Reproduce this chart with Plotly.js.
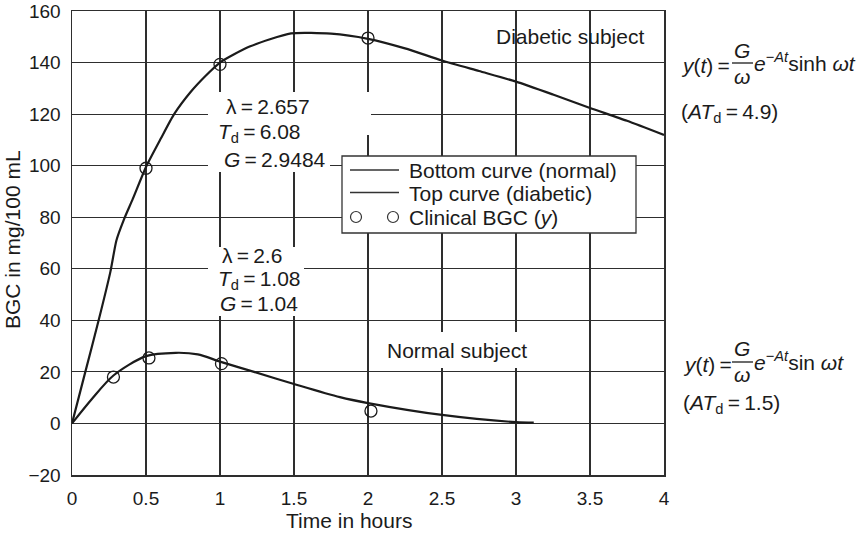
<!DOCTYPE html>
<html>
<head>
<meta charset="utf-8">
<script src="https://cdn.plot.ly/plotly-3.0.1.min.js"></script>
<style>
  html, body { margin: 0; padding: 0; background: #fff; }
  #chart { width: 862px; height: 534px; }
</style>
</head>
<body>
<div id="chart"></div>
<script>
// Blood glucose concentration (BGC) curves, mg/100 mL vs. time in hours
const normalT   = [0, 0.13, 0.28, 0.5, 0.7, 0.85, 1.0, 1.23, 1.5, 1.81, 2.0, 2.5, 3.0, 3.12];
const normalBGC = [0, 9.2, 18.6, 26.1, 27.4, 26.8, 24.0, 20.0, 15.3, 10.2, 7.9, 3.3, 0.5, 0.3];

const diabeticT   = [0, 0.09, 0.18, 0.26, 0.30, 0.35, 0.41, 0.5, 0.6, 0.69, 0.8, 0.9, 1.0, 1.2, 1.48, 1.75, 2.0, 2.25, 2.5, 2.75, 3.0, 3.25, 3.5, 3.75, 4.0];
const diabeticBGC = [0, 20, 40, 59, 71, 79, 87, 99.5, 110.5, 120, 128.5, 134.7, 140, 146.2, 151.3, 151.2, 149.2, 145.5, 140.8, 136.7, 132.6, 127.6, 122.4, 117.4, 111.9];

// clinical measurements (open circles)
const clinicalT   = [0.28, 0.52, 1.01, 2.02, 0.5, 1.0, 2.0];
const clinicalBGC = [18.0, 25.4, 23.2, 4.8, 99.0, 139.3, 149.5];

const xTickVals = [0, 0.5, 1, 1.5, 2, 2.5, 3, 3.5, 4];
const xTickText = ['0', '0.5', '1', '1.5', '2', '2.5', '3', '3.5', '4'];
const yTickVals = [-20, 0, 20, 40, 60, 80, 100, 120, 140, 160];
const yTickText = ['\u221220', '0', '20', '40', '60', '80', '100', '120', '140', '160'];

const legendLabels = ['Bottom curve (normal)', 'Top curve (diabetic)', 'Clinical BGC (<i>y</i>)'];

// plot-area geometry in pixels, used to place decorations in paper units
const PL = 72, PT = 11, PW = 592, PH = 464;
const px = v => (v - PL) / PW;
const py = v => (PT + PH - v) / PH;

const INK = '#1b1b1b';
const FONT = 'Liberation Sans, Arial, Helvetica, sans-serif';
const SP = '\u2009';

const traces = [
  { x: normalT, y: normalBGC, mode: 'lines', line: { color: INK, width: 2.2, shape: 'spline', smoothing: 0.8 },
    name: legendLabels[0], showlegend: false, hoverinfo: 'x+y' },
  { x: diabeticT, y: diabeticBGC, mode: 'lines', line: { color: INK, width: 2.2, shape: 'spline', smoothing: 0.6 },
    name: legendLabels[1], showlegend: false, hoverinfo: 'x+y' },
  { x: clinicalT, y: clinicalBGC, mode: 'markers',
    marker: { symbol: 'circle-open', size: 12, color: INK, line: { width: 1.3, color: INK } },
    name: legendLabels[2], showlegend: false, hoverinfo: 'x+y' }
];

// white patches that clear the grid behind the parameter labels
function patch(x0, x1, y0, y1) {
  return { type: 'rect', xref: 'paper', yref: 'paper', x0: px(x0), x1: px(x1), y0: py(y1), y1: py(y0),
           fillcolor: '#fff', line: { width: 0 }, layer: 'above' };
}
const shapes = [
  patch(208, 371, 92, 135),
  patch(208, 330, 134, 172),
  patch(208, 304, 247, 316),
  patch(378, 532, 332, 368),
  // legend frame
  { type: 'rect', xref: 'paper', yref: 'paper', x0: px(342), x1: px(636), y0: py(233), y1: py(156),
    fillcolor: '#fff', line: { color: '#333', width: 1.3 }, layer: 'above' },
  // legend line samples
  { type: 'line', xref: 'paper', yref: 'paper', x0: px(350), x1: px(399), y0: py(170), y1: py(170),
    line: { color: '#333', width: 1.3 }, layer: 'above' },
  { type: 'line', xref: 'paper', yref: 'paper', x0: px(350), x1: px(399), y0: py(192.5), y1: py(192.5),
    line: { color: '#333', width: 1.3 }, layer: 'above' },
  // fraction bars of the two model formulas
  { type: 'line', xref: 'paper', yref: 'paper', x0: px(732), x1: px(753), y0: py(63), y1: py(63),
    line: { color: INK, width: 1.3 } },
  { type: 'line', xref: 'paper', yref: 'paper', x0: px(732), x1: px(753), y0: py(362), y1: py(362),
    line: { color: INK, width: 1.3 } }
];
// legend marker symbols
[356, 393].forEach(cx => shapes.push({
  type: 'circle', xref: 'paper', yref: 'paper', xsizemode: 'pixel', ysizemode: 'pixel',
  xanchor: px(cx), yanchor: py(217), x0: -5.5, x1: 5.5, y0: -5.5, y1: 5.5,
  line: { color: '#333', width: 1.2 }, fillcolor: 'rgba(0,0,0,0)', layer: 'above'
}));

function label(text, x, y, opts) {
  return Object.assign({ text, xref: 'paper', yref: 'paper', x: px(x), y: py(y), showarrow: false,
    xanchor: 'left', yanchor: 'middle', font: { family: FONT, size: 21, color: INK } }, opts || {});
}

const annotations = [
  label('Diabetic subject', 494, 37),
  label('Normal subject', 385, 350),
  label('\u03bb' + SP + '=' + SP + '2.657', 224, 107),
  label('<i>T</i><sub>d</sub>' + SP + '=' + SP + '6.08', 216, 133),
  label('<i>G</i>' + SP + '=' + SP + '2.9484', 222, 159),
  label('\u03bb' + SP + '=' + SP + '2.6', 220, 256),
  label('<i>T</i><sub>d</sub>' + SP + '=' + SP + '1.08', 216, 280),
  label('<i>G</i>' + SP + '=' + SP + '1.04', 218, 303),
  // legend entries
  label(legendLabels[0], 407, 170),
  label(legendLabels[1], 407, 193),
  label(legendLabels[2], 407, 217),
  // model for the diabetic subject
  label('<i>y</i>(<i>t</i>)' + SP + '=', 679, 65),
  label('<i>G</i>', 742, 50, { xanchor: 'center' }),
  label('<i>\u03c9</i>', 742, 76, { xanchor: 'center' }),
  label('<i>e</i><sup>\u2212<i>At</i></sup>sinh <i>\u03c9t</i>', 752, 62),
  label('(<i>AT</i><sub>d</sub>' + SP + '=' + SP + '4.9)', 679, 113),
  // model for the normal subject
  label('<i>y</i>(<i>t</i>)' + SP + '=', 681, 364),
  label('<i>G</i>', 742, 348, { xanchor: 'center' }),
  label('<i>\u03c9</i>', 742, 374, { xanchor: 'center' }),
  label('<i>e</i><sup>\u2212<i>At</i></sup>sin <i>\u03c9t</i>', 752, 361),
  label('(<i>AT</i><sub>d</sub>' + SP + '=' + SP + '1.5)', 681, 404),
  // axis titles
  label('Time in hours', 349, 520, { xanchor: 'center' }),
  label('BGC in mg/100 mL', 12, 240, { xanchor: 'center', textangle: -90 })
];

const axisCommon = {
  showgrid: true, gridcolor: '#2e2e2e', gridwidth: 1.2,
  showline: true, linecolor: '#2e2e2e', linewidth: 1.5, mirror: true,
  ticks: '', zeroline: false, tickmode: 'array',
  tickfont: { family: FONT, size: 19, color: INK }, ticklabelstandoff: 6, fixedrange: true
};

const layout = {
  width: 862, height: 534,
  margin: { l: PL, r: 862 - PL - PW, t: PT, b: 534 - PT - PH },
  paper_bgcolor: '#fff', plot_bgcolor: '#fff',
  showlegend: false,
  xaxis: Object.assign({}, axisCommon, { range: [0, 4], tickvals: xTickVals, ticktext: xTickText }),
  yaxis: Object.assign({}, axisCommon, { range: [-20, 160], tickvals: yTickVals, ticktext: yTickText }),
  shapes, annotations,
  font: { family: FONT, color: INK }
};

Plotly.newPlot('chart', traces, layout, { staticPlot: true, displayModeBar: false });
</script>
</body>
</html>
